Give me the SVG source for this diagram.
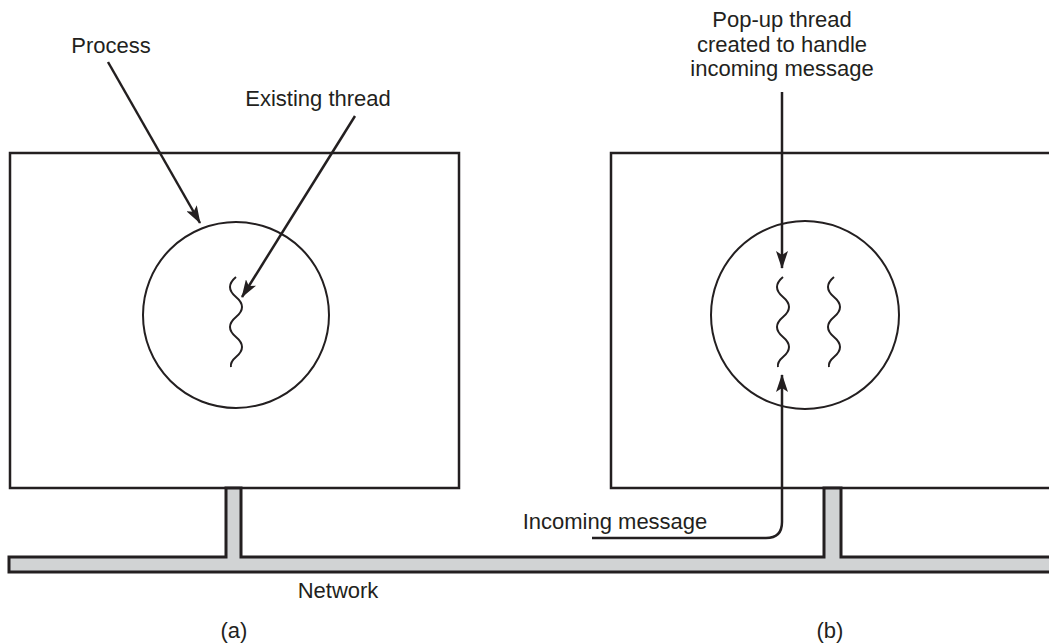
<svg xmlns="http://www.w3.org/2000/svg" xmlns:xlink="http://www.w3.org/1999/xlink" width="1049" height="644" viewBox="0 0 1049 644">
<style>
.box{fill:#fff;stroke:#231f20;stroke-width:2.5}
.proc{fill:none;stroke:#231f20;stroke-width:2}
.thr{fill:none;stroke:#231f20;stroke-width:2}
.arr{fill:none;stroke:#231f20;stroke-width:2.5;marker-end:url(#ah)}
.net{fill:#d1d3d4;stroke:#231f20;stroke-width:3;stroke-linejoin:miter}
text{font-family:"Liberation Sans",Arial,sans-serif;font-size:22px;fill:#231f20;text-anchor:middle}
</style>
<defs>
<marker id="ah" viewBox="0 0 18 12" refX="17" refY="6" markerWidth="18" markerHeight="12" markerUnits="userSpaceOnUse" orient="auto">
<path d="M0,0 L18,6 L0,12 L4,6 Z" fill="#231f20"/>
</marker>
<path id="squig" d="M236,277 q-12,10 0,20 t0,20 t0,20 t0,20 q-6,5 -5,10"/>
</defs>
<rect width="1049" height="644" fill="#fff"/>
<g id="boxA">
<rect class="box" x="10" y="153" width="449" height="335"/>
<circle class="proc" cx="236" cy="315" r="93"/>
<use xlink:href="#squig" class="thr"/>
</g>
<g id="boxB">
<rect class="box" x="611" y="153" width="460" height="335"/>
<circle class="proc" cx="805" cy="315" r="94"/>
<use xlink:href="#squig" class="thr" transform="translate(547,0)"/>
<use xlink:href="#squig" class="thr" transform="translate(598,0)"/>
</g>
<g id="network">
<path class="net" d="M1060,557 H841 V488 H824 V557 H241 V488 H226 V557 H9 V572 H1060 Z"/>
<text x="338" y="598">Network</text>
</g>
<g id="labels">
<text x="111" y="53">Process</text>
<text x="318" y="106">Existing thread</text>
<text x="782" y="27">Pop-up thread</text>
<text x="782" y="52">created to handle</text>
<text x="782" y="76">incoming message</text>
<text x="615" y="529">Incoming message</text>
<text x="234" y="638">(a)</text>
<text x="830" y="638">(b)</text>
</g>
<g id="connectors">
<line class="arr" x1="108" y1="62" x2="200" y2="223"/>
<line class="arr" x1="355" y1="116" x2="242" y2="297"/>
<line class="arr" x1="782" y1="92" x2="782" y2="268"/>
<path class="arr" d="M592,538 H766 Q782,538 782,522 V375"/>
</g>
</svg>
